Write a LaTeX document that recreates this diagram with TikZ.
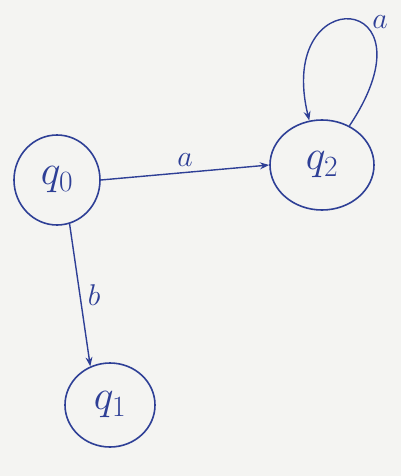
\RequirePackage{fix-cm}
\documentclass[tikz,border=0pt]{standalone}
\usepackage{tikz}
\usetikzlibrary{arrows.meta,positioning,shapes.geometric}
\definecolor{inkblue}{HTML}{2E3F96}
\definecolor{paper}{HTML}{F4F4F2}

\tikzset{
  state/.style={draw=inkblue, line width=1.6pt, ellipse, inner sep=0pt, text=inkblue,
    font=\fontsize{42}{42}\selectfont},
  edgelabel/.style={text=inkblue, font=\fontsize{30}{30}\selectfont}
}

\begin{document}
\begin{tikzpicture}[x=1pt, y=-1pt, >=Stealth]
  % Background
  \fill[paper] (0,0) rectangle (401,476);
  \useasboundingbox (0,0) rectangle (401,476);

  % States
  \node[state, minimum width=86pt, minimum height=90pt] (q0) at (57,180) {$q_0$};
  \node[state, minimum width=104pt, minimum height=90pt] (q2) at (322,165) {$q_2$};
  \node[state, minimum width=90pt, minimum height=84pt] (q1) at (110,405) {$q_1$};

  % Transitions
  \draw[->, draw=inkblue, line width=1.4pt] (q0.east) -- (q2.west)
    node[edgelabel, midway, above=2pt] {$a$};
  \draw[->, draw=inkblue, line width=1.4pt] (q0.-74) -- (q1.117)
    node[edgelabel, pos=0.5, right=4pt] {$b$};

  % Self loop on q2
  \draw[->, draw=inkblue, line width=1.4pt] (q2.55) .. controls (440,-10) and (275,-20) .. (q2.106);
  \node[edgelabel] (la) at (380,22) {$a$};
\end{tikzpicture}
\end{document}
